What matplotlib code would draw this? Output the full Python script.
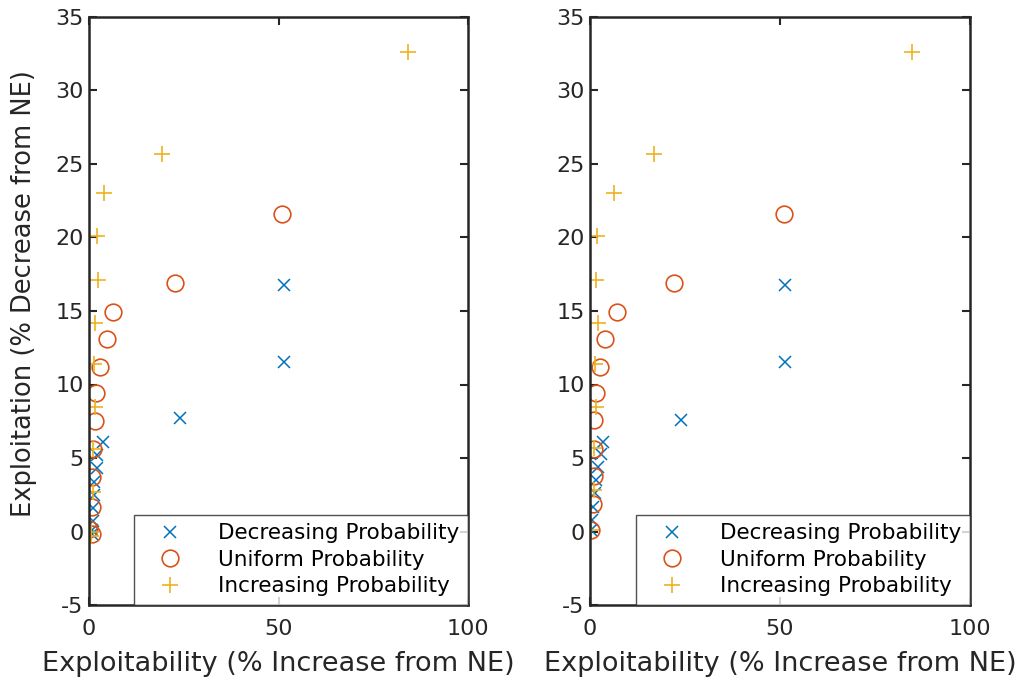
import matplotlib
matplotlib.use("Agg")
import matplotlib.pyplot as plt

plt.rcParams['font.family'] = ['DejaVu Sans']
plt.rcParams['axes.unicode_minus'] = False

# Left panel
dec_x_l = [51.5, 51.5, 24.0, 3.7, 2.1, 2.1, 1.3, 1.3, 1.1, 1.1, 0.8, 0.8]
dec_y_l = [16.8, 11.5, 7.7, 6.1, 5.2, 4.3, 3.4, 2.5, 1.6, 0.7, 0.1, -0.2]
uni_x_l = [50.9, 22.7, 6.3, 4.7, 2.9, 1.8, 1.6, 1.1, 0.8, 0.8, 0.0, 0.8]
uni_y_l = [21.6, 16.9, 14.9, 13.1, 11.2, 9.4, 7.5, 5.6, 3.7, 1.7, 0.2, -0.2]
inc_x_l = [84.2, 19.3, 4.0, 2.1, 2.4, 1.6, 1.3, 1.6, 1.1, 1.1, 0.5, 0.5]
inc_y_l = [32.6, 25.7, 23.0, 20.1, 17.1, 14.2, 11.4, 8.5, 5.6, 2.7, 0.0, -0.3]

# Right panel
dec_x_r = [51.3, 51.3, 23.9, 3.4, 2.9, 2.1, 1.6, 1.3, 0.8, 0.5, 0.3]
dec_y_r = [16.8, 11.5, 7.6, 6.1, 5.3, 4.4, 3.5, 2.6, 1.7, 0.8, 0.1]
uni_x_r = [51.1, 22.1, 7.1, 3.9, 2.6, 1.6, 1.1, 1.1, 1.1, 0.8, 0.3]
uni_y_r = [21.6, 16.9, 14.9, 13.1, 11.2, 9.4, 7.6, 5.6, 3.8, 1.9, 0.1]
inc_x_r = [84.7, 16.8, 6.3, 1.8, 1.6, 2.1, 1.3, 1.6, 1.1, 1.1, 0.3]
inc_y_r = [32.6, 25.7, 23.0, 20.1, 17.1, 14.2, 11.4, 8.5, 5.7, 2.8, 0.1]

labels = ['Decreasing Probability', 'Uniform Probability', 'Increasing Probability']
colors = ['#0072BD', '#D95319', '#EDB120']
xticks = [0, 50, 100]
yticks = [-5, 0, 5, 10, 15, 20, 25, 30, 35]

fig = plt.figure(figsize=(10.21, 6.79), dpi=100)
ax_l = fig.add_axes([89 / 1021, 74 / 679, 379 / 1021, 588 / 679])
ax_r = fig.add_axes([590 / 1021, 74 / 679, 380 / 1021, 588 / 679])

panels = [
    (ax_l, (dec_x_l, dec_y_l), (uni_x_l, uni_y_l), (inc_x_l, inc_y_l)),
    (ax_r, (dec_x_r, dec_y_r), (uni_x_r, uni_y_r), (inc_x_r, inc_y_r)),
]

ink = '#262626'
for ax, dec, uni, inc in panels:
    ax.plot(dec[0], dec[1], linestyle='none', marker='x', ms=8, mew=1.1,
            color=colors[0], label=labels[0])
    ax.plot(uni[0], uni[1], linestyle='none', marker='o', ms=12, mew=1.2,
            mfc='none', color=colors[1], label=labels[1])
    ax.plot(inc[0], inc[1], linestyle='none', marker='+', ms=12, mew=1.2,
            color=colors[2], label=labels[2])
    ax.set_xlim(0, 100)
    ax.set_ylim(-5, 35)
    ax.set_xticks(xticks)
    ax.set_yticks(yticks)
    ax.tick_params(direction='in', top=True, right=True, length=6, width=1.5,
                   labelsize=16, colors=ink)
    ax.tick_params(axis='x', pad=10)
    ax.tick_params(axis='y', pad=4)
    for sp in ax.spines.values():
        sp.set_color(ink)
        sp.set_linewidth(1.8)
    ax.set_xlabel('Exploitability (% Increase from NE)', fontsize=19.5,
                  color=ink, labelpad=9)
    leg = ax.legend(loc='lower right', fontsize=15.5, frameon=True, fancybox=False,
                    borderaxespad=0, handletextpad=1.0, borderpad=0.4,
                    labelspacing=0.3, handlelength=2.5)
    leg.get_frame().set_edgecolor(ink)
    leg.get_frame().set_linewidth(1.0)
    for t in leg.get_texts():
        t.set_color('black')

ax_l.set_ylabel('Exploitation (% Decrease from NE)', fontsize=18.5, color=ink)
ax_l.yaxis.set_label_coords(-0.138, 0.53)

fig.savefig('out.png', dpi=100, facecolor='white')
